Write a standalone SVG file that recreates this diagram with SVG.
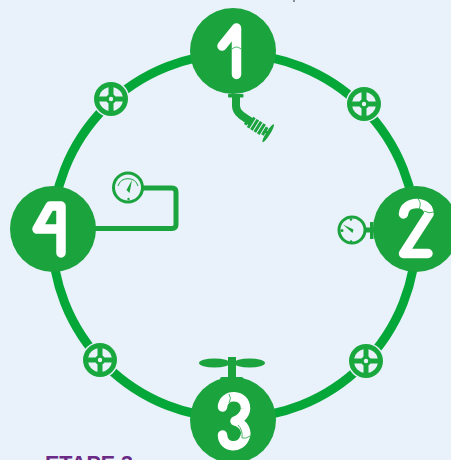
<svg xmlns="http://www.w3.org/2000/svg" width="451" height="460" viewBox="0 0 451 460">
<style>
.n{fill:#1ba33d}
.w{fill:none;stroke:#fff;stroke-width:9.500;stroke-linecap:round;stroke-linejoin:round}
.s{fill:none;stroke:#1ba33d}
.g{fill:#e9f1fb;stroke:#1ba33d;stroke-width:3}
.m{fill:none;stroke:#1ba33d;stroke-width:.8}
</style>
<defs>
<g id="valve">
<circle r="18.500" fill="#e9f1fb"/>
<circle r="17" fill="#19a83d"/>
<circle r="12" fill="#e9f1fb"/>
<path d="M-13 0H13M0-13V13" stroke="#19a83d" stroke-width="5"/>
<circle r="5" fill="#19a83d"/><circle r="2.200" fill="#e9f1fb"/>
</g>
</defs>
<rect width="451" height="460" fill="#e9f1fb"/>
<rect x="293" y="0" width="2" height="2" fill="#8a8f96"/>
<g id="connectors">
<circle cx="234" cy="236" r="182" fill="none" stroke="#04a738" stroke-width="9"/>
<path class="s" stroke-width="5" d="M95 228.500H172Q176 228.500 176 224.500V192Q176 188 172 188H143"/>
<path class="s" stroke-width="8" d="M236 94V106Q236 111 241 115L251 122"/>
<path class="s" stroke-width="8" d="M232 357V380"/>
<path class="s" stroke-width="5" d="M366 230H374"/>
</g>
<g id="valve-1"><use href="#valve" x="111" y="99"/></g>
<g id="valve-2"><use href="#valve" x="364" y="104"/></g>
<g id="valve-3"><use href="#valve" x="100" y="360"/></g>
<g id="valve-4"><use href="#valve" x="366" y="361"/></g>
<g id="node-1">
<circle class="n" cx="233" cy="51" r="43"/>
<path class="w" d="M222 46L236.500 28V74.500"/>
<path class="m" d="M232 49Q236.500 45 241 49"/>
<rect class="n" x="228" y="94" width="15.500" height="3.500" rx="1"/>
<g transform="translate(247 120) rotate(32)"><path d="M1-4.500V5M5-6V6M9-6V6M13-6V6M17-6V6M21-4.500V4.500" stroke="#1ba33d" stroke-width="3"/><path d="M20 0H25" stroke="#1ba33d" stroke-width="2.500"/><ellipse cx="25" cy="0" rx="2" ry="10.500" class="n"/></g>
</g>
<g id="node-2">
<circle class="n" cx="416" cy="229" r="43"/>
<path class="w" d="M403.500 214C404.500 200 429 200 429 214L403.500 253.500H428"/>
<path class="m" d="M418 199Q422 203 419 209M424 211Q429 214 434 212"/>
<rect class="n" x="370" y="222" width="3.500" height="17"/>
<circle class="g" cx="352" cy="230" r="13"/>
<path class="n" d="M343 224.500L353.500 229.500L352.500 233Z"/>
<circle class="n" cx="351" cy="219.500" r="1.300"/><circle class="n" cx="351" cy="241.500" r="1.300"/><circle class="n" cx="342" cy="230.500" r="1.500"/>
</g>
<g id="node-3">
<circle class="n" cx="233" cy="420" r="43"/>
<rect class="n" x="220" y="377" width="23.500" height="8" rx="2"/>
<ellipse class="n" cx="214.500" cy="363" rx="15.500" ry="4.500"/>
<ellipse class="n" cx="249.500" cy="363" rx="15.500" ry="4.500"/>
<path class="w" d="M222.500 407C223 393 246 393 245.500 409C245 416 238 420 235 421C245 424 247 432 245 437C241 449 223 449 222.500 435"/>
<path class="m" d="M229 394Q232 398 229 403M238 425Q243 430 242 438Q246 439 250 436"/>
</g>
<g id="node-4">
<circle class="n" cx="53" cy="229" r="43"/>
<path class="w" d="M61 206H50L37 229H61M61 206V253"/>
<circle class="g" cx="128" cy="187.500" r="14.500"/>
<path d="M118 186A10.500 10.500 0 0 1 138 186" fill="none" stroke="#1ba33d"/>
<path class="n" d="M132 180L129.500 193L126.500 190Z"/>
<circle class="n" cx="128.500" cy="199" r="1.200"/>
</g>
<text x="45" y="470.500" font-family="Liberation Sans,Arial,sans-serif" font-size="21.500" font-weight="700" fill="#6b2a86">ETAPE 3</text>
</svg>
